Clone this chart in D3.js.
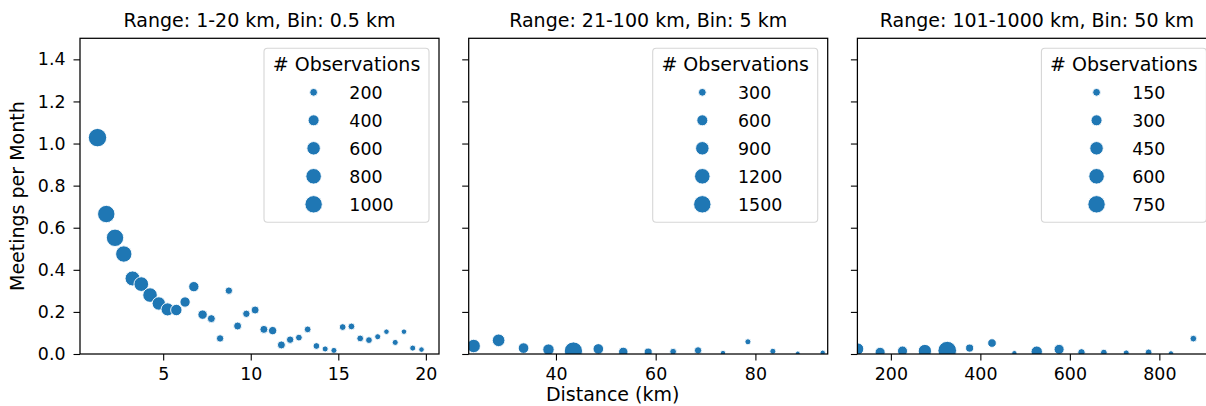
<!DOCTYPE html>
<html><head><meta charset="utf-8">
<script src="https://cdn.jsdelivr.net/npm/d3@7"></script>
<style>
html,body{margin:0;padding:0;background:#fff;}
svg{display:block;font-family:"DejaVu Sans",sans-serif;}
</style></head>
<body><svg id="c" width="1206" height="406"></svg>
<script>
// ---- data ----
const titles = ["Range: 1-20 km, Bin: 0.5 km", "Range: 21-100 km, Bin: 5 km", "Range: 101-1000 km, Bin: 50 km"];

const dist1 = [1.25,1.75,2.25,2.75,3.25,3.75,4.25,4.75,5.25,5.75,6.25,6.75,7.25,7.75,8.25,8.75,9.25,9.75,10.25,10.75,11.25,11.75,12.25,12.75,13.25,13.75,14.25,14.75,15.25,15.75,16.25,16.75,17.25,17.75,18.25,18.75,19.25,19.75];
const meet1 = [1.028,0.665,0.552,0.475,0.359,0.332,0.280,0.240,0.212,0.209,0.247,0.320,0.187,0.168,0.074,0.301,0.133,0.191,0.209,0.117,0.111,0.043,0.068,0.078,0.117,0.038,0.024,0.017,0.128,0.131,0.074,0.066,0.082,0.106,0.055,0.106,0.028,0.021];
const obs1 = [1120,1000,1000,880,740,710,700,590,560,430,350,350,290,210,180,180,210,180,210,210,230,210,180,150,150,150,120,120,150,150,150,150,120,100,120,100,120,100];

const dist2 = [23.5,28.5,33.5,38.5,43.5,48.5,53.5,58.5,63.5,68.5,73.5,78.5,83.5,88.5,93.5];
const meet2 = [0.038,0.065,0.028,0.021,0.014,0.024,0.010,0.009,0.011,0.017,0.005,0.058,0.013,0.003,0.006];
const obs2 = [890,790,560,640,1650,560,440,320,220,270,140,180,180,110,140];

const dist3 = [126,176,226,276,326,376,426,476,526,576,626,676,726,776,826,876];
const meet3 = [0.024,0.008,0.014,0.014,0.016,0.028,0.052,0.004,0.011,0.022,0.008,0.007,0.005,0.008,0.003,0.073];
const obs3 = [360,250,250,440,860,160,185,70,320,250,135,110,90,110,70,110];

const xDomains = [[0.25,20.75],[22.5,94.5],[125.2,927.5]];
const xTicks = [[5,10,15,20],[40,60,80],[200,400,600,800]];
const yTicks = [0,0.2,0.4,0.6,0.8,1.0,1.2,1.4];
const legendValues = [[200,400,600,800,1000],[300,600,900,1200,1500],[150,300,450,600,750]];
const legendTitle = "# Observations";
const xLabel = "Distance (km)";
const yLabel = "Meetings per Month";

// ---- layout ----
const svg = d3.select("#c");
const color = "#1f77b4";
const panelLeft = [80, 468.7, 857.4];
const pw = 359, plotTop = 38.3, plotBottom = 354;
const rMax = [8.7, 8.7, 8.7];
const panels = [
  {d: dist1, m: meet1, o: obs1},
  {d: dist2, m: meet2, o: obs2},
  {d: dist3, m: meet3, o: obs3}
];
const y = d3.scaleLinear().domain([0,1.5]).range([plotBottom, plotTop]);

panels.forEach((p, i) => {
  const L = panelLeft[i];
  const x = d3.scaleLinear().domain(xDomains[i]).range([L, L + pw]);
  const vmax = d3.max(legendValues[i]);
  const r = d3.scaleSqrt().domain([0, vmax]).range([0, rMax[i]]);
  const g = svg.append("g");

  const clipId = "clip" + i;
  svg.append("clipPath").attr("id", clipId).append("rect")
    .attr("x", L).attr("y", plotTop).attr("width", pw).attr("height", plotBottom - plotTop);

  // points
  g.append("g").attr("clip-path", `url(#${clipId})`)
    .selectAll("circle").data(p.d.map((d, k) => ({d, m: p.m[k], o: p.o[k]})))
    .join("circle")
    .attr("cx", e => x(e.d)).attr("cy", e => y(e.m)).attr("r", e => r(e.o))
    .attr("fill", color).attr("stroke", "#fff").attr("stroke-width", 0.9);

  // x axis
  const xa = g.append("g").attr("transform", `translate(0,${plotBottom})`)
    .call(d3.axisBottom(x).tickValues(xTicks[i]).tickSize(6.5).tickPadding(7).tickFormat(d3.format("d")));
  xa.select(".domain").remove();
  xa.selectAll("line").attr("stroke", "#000").attr("stroke-width", 1.1);
  xa.selectAll("text").attr("font-size", "17.4px").attr("fill", "#000").attr("font-family", "DejaVu Sans");

  // y axis
  const ya = g.append("g").attr("transform", `translate(${L},0)`)
    .call(d3.axisLeft(y).tickValues(yTicks).tickSize(6.5).tickPadding(8).tickFormat(i === 0 ? d3.format(".1f") : () => ""));
  ya.select(".domain").remove();
  ya.selectAll("line").attr("stroke", "#000").attr("stroke-width", 1.1);
  ya.selectAll("text").attr("font-size", "17.4px").attr("fill", "#000").attr("font-family", "DejaVu Sans");

  // frame
  g.append("rect").attr("x", L).attr("y", plotTop).attr("width", pw).attr("height", plotBottom - plotTop)
    .attr("fill", "none").attr("stroke", "#000").attr("stroke-width", 1.25);

  // title
  g.append("text").attr("x", L + pw / 2).attr("y", 26.7).attr("text-anchor", "middle")
    .attr("font-size", "19px").attr("fill", "#000").text(titles[i]);

  // legend
  const lw = 165, lh = 174;
  const lx = L + pw - 10 - lw, ly = 48.3;
  const lg = g.append("g");
  lg.append("rect").attr("x", lx).attr("y", ly).attr("width", lw).attr("height", lh)
    .attr("rx", 3.5).attr("fill", "#fff").attr("fill-opacity", 0.8)
    .attr("stroke", "#d6d6d6").attr("stroke-width", 1.1);
  lg.append("text").attr("x", lx + lw / 2).attr("y", 70.7).attr("text-anchor", "middle")
    .attr("font-size", "19px").attr("fill", "#000").text(legendTitle);
  const labels = lg.selectAll("text.lab").data(legendValues[i]).join("text")
    .attr("class", "lab").attr("font-size", "17.4px").attr("fill", "#000").text(v => v);
  let maxW = 0;
  labels.each(function(){ maxW = Math.max(maxW, this.getComputedTextLength()); });
  const a = 14.2, gap = 35.7;
  const colW = a + gap + maxW;
  const mx = lx + lw / 2 - colW / 2 + a;
  const rowY = v => 92.3 + legendValues[i].indexOf(v) * 28;
  labels.attr("x", mx + gap).attr("y", v => rowY(v) + 6.3);
  lg.selectAll("circle").data(legendValues[i]).join("circle")
    .attr("cx", mx).attr("cy", rowY).attr("r", v => r(v))
    .attr("fill", color).attr("stroke", "#fff").attr("stroke-width", 0.9);
});

// axis labels
svg.append("text").attr("x", 612.7).attr("y", 401).attr("text-anchor", "middle")
  .attr("font-size", "19px").attr("fill", "#000").text(xLabel);
svg.append("text").attr("transform", `translate(24,${(plotTop + plotBottom) / 2}) rotate(-90)`)
  .attr("text-anchor", "middle").attr("font-size", "19px").attr("fill", "#000").text(yLabel);
</script>
</body></html>
